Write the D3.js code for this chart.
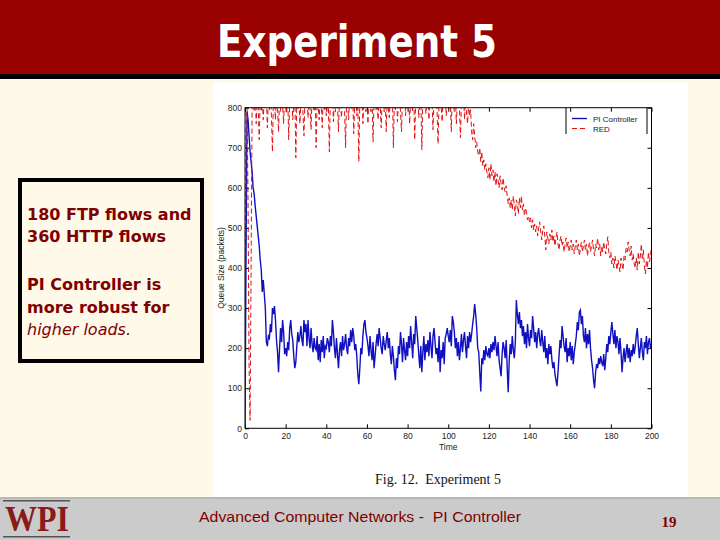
<!DOCTYPE html>
<html>
<head>
<meta charset="utf-8">
<script src="https://cdn.jsdelivr.net/npm/d3@7"></script>
<style>
  html, body { margin: 0; padding: 0; background: #fef9e9; }
  svg { display: block; }
  .pre { white-space: pre; }
</style>
</head>
<body>
<div id="chart-container"></div>
<script>
// ---- data ----
const slideTitle = 'Experiment 5';
const noteLines = ['180 FTP flows and', '360 HTTP flows', 'PI Controller is', 'more robust for', 'higher loads.'];
const footerText = 'Advanced Computer Networks -  PI Controller';
const pageNumber = '19';
const figCaption = 'Fig. 12.  Experiment 5';
const seriesNames = ['PI Controller', 'RED'];
const xTicks = [0, 20, 40, 60, 80, 100, 120, 140, 160, 180, 200];
const yTicks = [0, 100, 200, 300, 400, 500, 600, 700, 800];
const xLabel = 'Time';
const yLabel = 'Queue Size (packets)';
const sampleStep = 0.5; // seconds between samples

// queue size (packets), one sample every 0.5 s from 0 to 200 s
const piQueue = [
  0, 420, 790, 770, 730, 690, 665, 640, 600, 585, 555, 530, 505, 480, 455, 420, 395, 340, 370, 335,
  300, 215, 205, 230, 225, 260, 240, 300, 285, 305, 270, 220, 190, 140, 200, 250, 215, 270, 240, 185,
  200, 180, 215, 195, 250, 270, 235, 220, 180, 150, 165, 205, 240, 215, 230, 255, 220, 205, 270, 240,
  260, 205, 270, 225, 200, 250, 210, 190, 225, 200, 195, 230, 170, 210, 165, 220, 190, 230, 175, 205,
  200, 225, 215, 190, 230, 205, 270, 240, 200, 175, 225, 185, 150, 195, 215, 180, 230, 195, 210, 235,
  200, 185, 225, 205, 245, 215, 250, 230, 195, 210, 180, 135, 110, 150, 200, 185, 230, 260, 270, 240,
  225, 205, 180, 230, 195, 170, 215, 150, 180, 210, 235, 205, 250, 225, 200, 185, 230, 210, 195, 220,
  240, 200, 225, 185, 160, 205, 180, 145, 120, 175, 150, 205, 185, 240, 210, 165, 225, 195, 170, 215,
  180, 230, 200, 255, 215, 175, 235, 210, 280, 250, 220, 185, 150, 205, 140, 190, 230, 170, 210, 190,
  220, 180, 240, 205, 175, 230, 250, 215, 185, 200, 165, 230, 140, 195, 175, 215, 160, 225, 235, 250,
  230, 215, 245, 205, 280, 265, 240, 200, 225, 180, 215, 170, 200, 235, 190, 220, 240, 205, 175, 230,
  200, 240, 215, 235, 260, 280, 310, 285, 250, 200, 190, 140, 92, 175, 160, 195, 170, 205, 185, 180,
  200, 175, 210, 190, 215, 195, 230, 205, 180, 215, 170, 150, 130, 185, 215, 200, 175, 220, 150, 90,
  170, 210, 185, 230, 195, 175, 215, 320, 285, 260, 290, 250, 270, 230, 255, 210, 240, 200, 260, 225,
  205, 245, 225, 280, 250, 215, 240, 200, 235, 250, 220, 205, 245, 215, 190, 230, 175, 200, 160, 210,
  185, 205, 170, 150, 165, 135, 120, 105, 140, 180, 220, 200, 255, 230, 205, 190, 225, 165, 200, 180,
  215, 170, 205, 160, 190, 210, 230, 265, 245, 290, 295, 260, 280, 230, 215, 250, 200, 235, 210, 245,
  200, 170, 150, 120, 100, 140, 160, 150, 175, 160, 180, 165, 155, 185, 145, 175, 210, 190, 230, 210,
  240, 265, 235, 210, 245, 200, 230, 215, 185, 225, 190, 140, 175, 200, 165, 190, 210, 175, 200, 165,
  195, 180, 210, 185, 205, 230, 250, 210, 175, 200, 225, 190, 170, 215, 200, 230, 185, 215, 225, 200,
  210,
];

// RED sits on the 800-packet limit for the first 110 s
const redQueue = [
  0, 790, 820, 560, 160, 20, 400, 810, 830, 790, 840, 760, 820, 805, 720, 830, 790, 815, 770, 840,
  800, 830, 750, 820, 795, 840, 780, 690, 830, 810, 770, 835, 800, 740, 825, 790, 845, 805, 760, 830,
  815, 785, 840, 720, 820, 800, 830, 770, 810, 845, 675, 820, 795, 835, 760, 815, 840, 790, 730, 825,
  805, 840, 775, 820, 800, 745, 835, 810, 790, 840, 700, 825, 805, 770, 830, 815, 750, 840, 795, 820,
  780, 835, 810, 690, 825, 800, 840, 765, 820, 790, 835, 810, 740, 830, 805, 775, 845, 815, 790, 700,
  830, 805, 770, 840, 815, 795, 830, 735, 820, 845, 780, 810, 665, 825, 800, 840, 760, 815, 835, 790,
  820, 760, 840, 805, 790, 830, 715, 820, 845, 795, 810, 770, 835, 805, 750, 825, 840, 790, 815, 740,
  835, 800, 775, 830, 810, 845, 700, 820, 795, 840, 765, 815, 830, 790, 740, 825, 805, 840, 780, 815,
  800, 840, 760, 825, 810, 790, 835, 720, 820, 805, 845, 775, 815, 830, 695, 820, 800, 840, 785, 815,
  830, 770, 840, 805, 815, 745, 825, 800, 840, 790, 710, 820, 835, 805, 765, 830, 815, 840, 780, 810,
  835, 795, 820, 740, 840, 810, 790, 830, 760, 815, 845, 800, 725, 825, 805, 840, 770, 815, 790, 760,
  810, 780, 795, 740, 720, 760, 730, 700, 715, 690, 680, 700, 665, 690, 655, 670, 645, 660, 640, 625,
  650, 620, 660, 630, 645, 615, 640, 605, 635, 620, 600, 630, 610, 595, 625, 600, 590, 605, 580, 560,
  575, 550, 570, 545, 580, 555, 530, 570, 560, 535, 575, 550, 580, 545, 560, 530, 550, 540, 520, 530,
  515, 525, 500, 520, 495, 510, 490, 505, 480, 500, 515, 490, 470, 495, 505, 480, 445, 490, 475, 460,
  485, 470, 495, 465, 480, 455, 475, 490, 460, 445, 470, 480, 455, 465, 440, 460, 475, 450, 465, 440,
  455, 470, 445, 460, 435, 455, 470, 445, 460, 430, 450, 465, 440, 455, 470, 445, 460, 430, 450, 465,
  440, 455, 470, 445, 430, 460, 450, 475, 445, 460, 430, 455, 440, 465, 445, 435, 460, 478, 440, 425,
  440, 410, 425, 400, 430, 415, 395, 420, 405, 390, 425, 410, 395, 430, 420, 450, 440, 465, 445, 430,
  455, 420, 435, 410, 400, 425, 395, 440, 410, 430, 460, 420, 445, 405, 385, 420, 400, 440, 415, 430,
  455,
];

// ---- page ----
const W = 720;
const H = 540;
const maroon = '#800000';

const svg = d3.select('#chart-container')
    .append('svg')
    .attr('width', W)
    .attr('height', H);

svg.append('rect').attr('width', W).attr('height', H).attr('fill', '#fef9e9');

// title bar
svg.append('rect').attr('x', 0).attr('y', 0).attr('width', W).attr('height', 74).attr('fill', '#990000');
svg.append('rect').attr('x', 0).attr('y', 74).attr('width', W).attr('height', 5).attr('fill', '#000');
svg.append('text')
    .attr('x', 357)
    .attr('y', 57)
    .attr('text-anchor', 'middle')
    .attr('fill', '#fff')
    .attr('font-family', '"DejaVu Sans Condensed", "DejaVu Sans", sans-serif')
    .attr('font-weight', 'bold')
    .attr('font-size', 44)
    .attr('textLength', 280)
    .attr('lengthAdjust', 'spacingAndGlyphs')
    .text(slideTitle);

// white figure panel
svg.append('rect').attr('x', 213).attr('y', 82).attr('width', 475).attr('height', 415).attr('fill', '#fff');

// note box on the left
svg.append('rect')
    .attr('x', 20).attr('y', 180)
    .attr('width', 182).attr('height', 181)
    .attr('fill', '#fef9e9')
    .attr('stroke', '#000')
    .attr('stroke-width', 4);

const noteY = [220, 242, 290, 313, 335];
svg.append('g')
    .selectAll('text')
    .data(noteLines)
    .enter()
    .append('text')
    .attr('x', 27)
    .attr('y', (d, i) => noteY[i])
    .attr('fill', maroon)
    .attr('font-family', '"DejaVu Sans", sans-serif')
    .attr('font-size', 16)
    .attr('font-weight', (d, i) => i === 4 ? 'normal' : 'bold')
    .attr('font-style', (d, i) => i === 4 ? 'italic' : 'normal')
    .text((d) => d);

// ---- chart ----
const plot = {left: 245, right: 651.5, top: 107.7, bottom: 428.3};

const x = d3.scaleLinear().domain([0, 200]).range([plot.left, plot.right]);
const y = d3.scaleLinear().domain([0, 800]).range([plot.bottom, plot.top]);

const tickFont = '"Liberation Sans", Arial, sans-serif';

function styleAxis(g) {
  g.select('.domain').remove();
  g.selectAll('line').attr('stroke', '#000');
  g.selectAll('text')
      .attr('font-family', tickFont)
      .attr('font-size', 8.5)
      .attr('fill', '#222');
}

svg.append('g')
    .attr('transform', `translate(0, ${plot.bottom})`)
    .call(d3.axisBottom(x).tickValues(xTicks).tickSizeInner(-4).tickSizeOuter(0).tickPadding(5))
    .call(styleAxis);
svg.append('g')
    .attr('transform', `translate(0, ${plot.top})`)
    .call(d3.axisTop(x).tickValues(xTicks).tickSizeInner(-4).tickSizeOuter(0).tickFormat(''))
    .call(styleAxis);
svg.append('g')
    .attr('transform', `translate(${plot.left}, 0)`)
    .call(d3.axisLeft(y).tickValues(yTicks).tickSizeInner(-4).tickSizeOuter(0).tickPadding(3))
    .call(styleAxis);
svg.append('g')
    .attr('transform', `translate(${plot.right}, 0)`)
    .call(d3.axisRight(y).tickValues(yTicks).tickSizeInner(-4).tickSizeOuter(0).tickFormat(''))
    .call(styleAxis);

svg.append('text')
    .attr('x', (plot.left + plot.right) / 2)
    .attr('y', 450)
    .attr('text-anchor', 'middle')
    .attr('font-family', tickFont)
    .attr('font-size', 8.5)
    .attr('fill', '#222')
    .text(xLabel);
svg.append('text')
    .attr('transform', `translate(224, ${(plot.top + plot.bottom) / 2}) rotate(-90)`)
    .attr('text-anchor', 'middle')
    .attr('font-family', tickFont)
    .attr('font-size', 8.5)
    .attr('fill', '#222')
    .text(yLabel);

// clip the traces to the axes box
svg.append('clipPath')
    .attr('id', 'plot-clip')
    .append('rect')
    .attr('x', plot.left).attr('y', plot.top)
    .attr('width', plot.right - plot.left)
    .attr('height', plot.bottom - plot.top);

const line = d3.line()
    .x((d, i) => x(i * sampleStep))
    .y((d) => y(d));

const traces = svg.append('g').attr('clip-path', 'url(#plot-clip)');
traces.append('path')
    .datum(piQueue)
    .attr('d', line)
    .attr('fill', 'none')
    .attr('stroke', '#1010c0')
    .attr('stroke-width', 1.4);
traces.append('path')
    .datum(redQueue)
    .attr('d', line)
    .attr('fill', 'none')
    .attr('stroke', '#e01010')
    .attr('stroke-width', 1)
    .attr('stroke-dasharray', '5,3');

// axes frame
svg.append('rect')
    .attr('x', plot.left).attr('y', plot.top)
    .attr('width', plot.right - plot.left)
    .attr('height', plot.bottom - plot.top)
    .attr('fill', 'none')
    .attr('stroke', '#000')
    .attr('stroke-width', 1);

// legend
const legend = svg.append('g');
legend.append('path')
    .attr('d', `M566,${plot.top} V134 M647,${plot.top} V134`)
    .attr('stroke', '#000')
    .attr('fill', 'none');
const legendColors = ['#1010c0', '#e01010'];
seriesNames.forEach(function(name, i) {
  const ly = 118.5 + i * 10;
  legend.append('line')
      .attr('x1', 572).attr('x2', 587)
      .attr('y1', ly).attr('y2', ly)
      .attr('stroke', legendColors[i])
      .attr('stroke-width', i === 0 ? 1.4 : 1)
      .attr('stroke-dasharray', i === 0 ? null : '5,3');
  legend.append('text')
      .attr('x', 593)
      .attr('y', ly + 3)
      .attr('font-family', tickFont)
      .attr('font-size', 8)
      .attr('fill', '#222')
      .text(name);
});

// figure caption
svg.append('text')
    .attr('class', 'pre')
    .attr('x', 438)
    .attr('y', 484)
    .attr('text-anchor', 'middle')
    .attr('font-family', '"Liberation Serif", "Times New Roman", serif')
    .attr('font-size', 14)
    .attr('fill', '#111')
    .text(figCaption);

// ---- footer ----
svg.append('rect').attr('x', 0).attr('y', 497).attr('width', W).attr('height', 43).attr('fill', '#cbcbcb');
svg.append('rect').attr('x', 0).attr('y', 497).attr('width', W).attr('height', 2).attr('fill', '#b8b8b8');

// WPI logo
svg.append('rect').attr('x', 3).attr('y', 500).attr('width', 67).attr('height', 1.5).attr('fill', '#555');
svg.append('rect').attr('x', 3).attr('y', 536).attr('width', 67).attr('height', 1.5).attr('fill', '#555');
svg.append('text')
    .attr('x', 5)
    .attr('y', 531)
    .attr('font-family', '"Liberation Serif", "Times New Roman", serif')
    .attr('font-weight', 'bold')
    .attr('font-size', 36)
    .attr('fill', '#8b1a1a')
    .attr('textLength', 64)
    .attr('lengthAdjust', 'spacingAndGlyphs')
    .text('WPI');

svg.append('text')
    .attr('class', 'pre')
    .attr('x', 199)
    .attr('y', 522)
    .attr('font-family', '"Liberation Sans", Arial, sans-serif')
    .attr('font-size', 15)
    .attr('fill', maroon)
    .attr('textLength', 322)
    .attr('lengthAdjust', 'spacingAndGlyphs')
    .text(footerText);

svg.append('text')
    .attr('x', 669)
    .attr('y', 527)
    .attr('text-anchor', 'middle')
    .attr('font-family', '"Liberation Serif", "Times New Roman", serif')
    .attr('font-weight', 'bold')
    .attr('font-size', 15)
    .attr('fill', maroon)
    .text(pageNumber);
</script>
</body>
</html>
